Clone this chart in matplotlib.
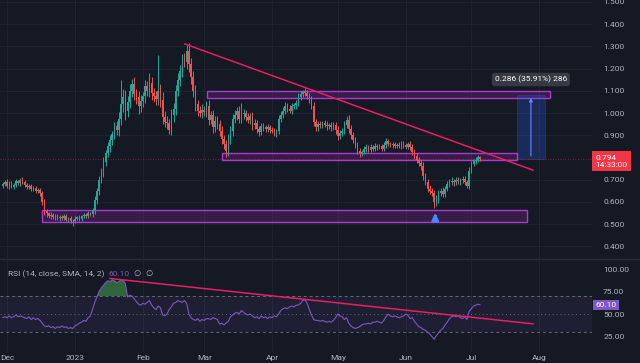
import matplotlib
matplotlib.use("Agg")
import matplotlib.pyplot as plt
from matplotlib.patches import Rectangle
import numpy as np
import pandas as pd

plt.rcParams["font.family"] = ["Roboto", "DejaVu Sans"]

START = pd.Timestamp("2022-11-29")

# daily candles, Nov 29 2022 -> Jul 5 2023 (price)
FIRST_OPEN = 0.672
CLOSES = [
    0.680, 0.690, 0.672, 0.685, 0.668, 0.675, 0.692, 0.684, 0.700, 0.688,
    0.676, 0.667, 0.672, 0.658, 0.662, 0.648, 0.655, 0.640, 0.600, 0.560,
    0.548, 0.535, 0.542, 0.530, 0.538, 0.525, 0.532, 0.528, 0.535, 0.520,
    0.527, 0.515, 0.512, 0.524, 0.530, 0.522, 0.534, 0.540, 0.536, 0.548,
    0.545, 0.562, 0.610, 0.650, 0.700, 0.735, 0.780, 0.820, 0.850, 0.880,
    0.905, 0.940, 0.925, 0.975, 1.040, 1.070, 1.010, 1.050, 1.100, 1.130,
    1.085, 1.070, 1.030, 1.055, 1.075, 1.120, 1.100, 1.135, 1.090, 1.075,
    1.065, 1.100, 1.060, 0.980, 0.960, 0.955, 0.925, 0.990, 1.020, 1.100,
    1.150, 1.190, 1.240, 1.230, 1.280, 1.220, 1.160, 1.100, 1.040, 1.010,
    1.000, 1.015, 1.005, 1.030, 0.970, 0.990, 0.935, 0.965, 0.950, 0.920,
    0.885, 0.860, 0.830, 0.880, 0.920, 0.975, 0.990, 1.010, 0.975, 0.995,
    1.000, 0.980, 0.970, 0.985, 0.945, 0.955, 0.930, 0.915, 0.940, 0.935,
    0.928, 0.935, 0.925, 0.920, 0.912, 0.918, 0.975, 0.990, 1.010, 1.030,
    1.020, 1.010, 1.030, 1.035, 1.045, 1.070, 1.085, 1.100, 1.090, 1.075,
    1.060, 1.030, 0.960, 0.935, 0.950, 0.945, 0.955, 0.948, 0.940, 0.945,
    0.935, 0.948, 0.925, 0.895, 0.910, 0.920, 0.945, 0.970, 0.930, 0.900,
    0.880, 0.855, 0.830, 0.820, 0.825, 0.838, 0.845, 0.835, 0.848, 0.840,
    0.852, 0.845, 0.850, 0.840, 0.855, 0.875, 0.862, 0.855, 0.860, 0.852,
    0.858, 0.850, 0.862, 0.855, 0.848, 0.860, 0.845, 0.825, 0.805, 0.790,
    0.775, 0.760, 0.715, 0.690, 0.660, 0.650, 0.640, 0.600, 0.610, 0.640,
    0.650, 0.635, 0.660, 0.680, 0.690, 0.695, 0.688, 0.700, 0.692, 0.698,
    0.705, 0.690, 0.672, 0.740, 0.770, 0.782, 0.790, 0.800, 0.794,
]
# wick lengths in thousandths of a dollar
UP_WICK = [
    10, 8, 12, 9, 7, 11, 10, 8, 6, 12, 9, 8, 10, 7, 9, 11, 8, 6, 10, 12,
    9, 7, 10, 8, 6, 9, 7, 10, 8, 9, 6, 8, 7, 10, 8, 9, 7, 8, 10, 9,
    8, 12, 15, 14, 18, 16, 20, 15, 18, 22, 16, 20, 25, 30, 110, 40, 35, 28, 30, 25,
    30, 22, 28, 25, 20, 30, 24, 45, 28, 22, 25, 160, 30, 35, 28, 25, 20, 30, 25, 28,
    30, 25, 28, 30, 26, 35, 28, 30, 25, 20, 22, 25, 18, 22, 30, 20, 25, 22, 20, 18,
    22, 18, 20, 25, 22, 20, 25, 18, 20, 50, 18, 15, 20, 15, 18, 20, 15, 12, 15, 14,
    12, 15, 10, 12, 14, 10, 15, 18, 15, 20, 16, 14, 15, 12, 15, 18, 15, 5, 14, 12,
    15, 18, 20, 15, 12, 14, 10, 12, 15, 12, 14, 10, 12, 15, 14, 12, 18, 15, 20, 15,
    14, 12, 15, 12, 10, 12, 14, 10, 12, 9, 11, 10, 12, 9, 14, 12, 10, 9, 11, 10,
    9, 12, 10, 11, 9, 10, 12, 14, 12, 15, 14, 12, 18, 15, 14, 16, 14, 12, 20, 15,
    14, 16, 12, 14, 12, 15, 10, 12, 14, 11, 13, 12, 10, 15, 14, 12, 10, 12, 8,
]
LOW_WICK = [
    8, 10, 9, 12, 7, 10, 8, 9, 11, 8, 10, 9, 7, 10, 8, 9, 10, 12, 15, 20,
    15, 10, 12, 9, 10, 8, 12, 9, 10, 8, 11, 10, 20, 9, 8, 10, 9, 8, 10, 9,
    10, 12, 15, 18, 20, 16, 22, 18, 20, 25, 22, 20, 25, 28, 30, 35, 40, 30, 28, 30,
    28, 30, 35, 25, 28, 30, 25, 28, 30, 25, 28, 30, 35, 30, 25, 28, 20, 25, 30, 28,
    25, 30, 28, 25, 30, 35, 30, 28, 30, 25, 20, 22, 20, 25, 22, 20, 25, 22, 20, 22,
    25, 22, 30, 25, 20, 22, 18, 20, 22, 18, 20, 18, 15, 18, 20, 15, 18, 20, 15, 18,
    15, 12, 14, 12, 15, 18, 14, 15, 12, 14, 15, 12, 14, 12, 15, 14, 12, 15, 14, 12,
    15, 14, 20, 18, 15, 12, 14, 12, 15, 12, 14, 12, 20, 15, 14, 12, 15, 14, 18, 15,
    14, 12, 15, 18, 12, 10, 12, 11, 10, 12, 10, 11, 9, 12, 10, 11, 9, 10, 12, 10,
    11, 9, 10, 12, 10, 11, 12, 14, 12, 15, 14, 16, 18, 15, 14, 16, 15, 30, 18, 15,
    14, 12, 15, 12, 14, 12, 15, 10, 12, 14, 11, 12, 10, 14, 12, 10, 12, 10, 8,
]
# RSI(14) as drawn in the lower pane, one value per candle
RSI = [
    46, 47, 46, 48, 46, 47, 49, 47, 48, 47,
    46, 45, 47, 44, 46, 44, 45, 43,
    40, 37, 36, 37,
    35, 36, 34, 36, 35, 37, 35, 36, 34, 35, 34, 37, 38, 40,
    41, 43, 42, 46, 48, 55,
    63, 69, 75, 79,
    82, 85, 87, 86, 88, 87, 85, 86, 88, 87, 84,
    69, 71, 70, 67, 64, 61,
    60, 62, 61, 63, 65,
    60, 57, 55, 59, 57,
    49, 48, 50, 55,
    58, 62, 63, 65, 64, 63, 65, 62,
    50, 46, 44, 43, 45, 42, 44, 43, 45,
    45, 44, 46, 45, 44,
    39, 40, 38, 40, 42,
    47, 49, 51, 52, 50, 54,
    52, 50, 49, 50, 48,
    46, 47, 45, 48, 46, 47, 45,
    47, 46, 48, 47, 50,
    54, 56, 57, 56, 58,
    59, 58, 60, 60, 62,
    65, 66, 62,
    55, 49, 44, 43, 43,
    42, 43, 42, 41, 42, 41, 43,
    46, 50, 48, 47, 44, 46,
    40, 37, 35, 34, 35, 36,
    38, 39, 39, 40, 39, 41,
    41, 42, 41, 40, 43, 47,
    50, 48, 47, 48, 47, 46,
    47, 48, 50, 49, 45,
    46, 42, 39, 36,
    35, 33, 32, 30, 28, 25, 22,
    26, 29, 32, 34, 38,
    41, 45, 47, 48, 47,
    48, 46, 45, 47, 44,
    53, 56, 59, 60, 61, 60.1,
]

MONTH_LABELS = ["Dec", "2023", "Feb", "Mar", "Apr", "May", "Jun", "Jul", "Aug"]
MONTH_DATES = ["2022-12-01", "2023-01-01", "2023-02-01", "2023-03-01", "2023-04-01",
               "2023-05-01", "2023-06-01", "2023-07-01", "2023-08-01"]
PRICE_TICKS = [0.4, 0.5, 0.6, 0.7, 0.9, 1.0, 1.1, 1.2, 1.3, 1.4, 1.5]
RSI_TICKS = [25, 50, 75, 100]

LAST_PRICE = 0.794
LAST_RSI = 60.10
MEASURE_LABEL = "0.286 (35.91%) 286"

# drawing tools on the chart: (day_from, day_to, price_low, price_high)
ZONES = [(18.0, 239.4, 0.509, 0.563),
         (100.1, 234.8, 0.789, 0.820),
         (93.3, 249.9, 1.068, 1.099)]
MEASURE = (234.8, 247.6, 0.794, 1.080)
PRICE_TREND = [(83.2, 1.311), (242.1, 0.743)]
RSI_TREND = [(49.0, 89.6), (242.1, 39.2)]
ARROW_DAY = 197.5

BG = "#151924"
GRID = "#1f2330"
TXT = "#b2b5be"
UP = "#26a69a"
DOWN = "#ef5350"


def day(date):
    return (pd.Timestamp(date) - START).days


closes = np.array(CLOSES)
opens = np.array([FIRST_OPEN] + CLOSES[:-1])
highs = np.maximum(opens, closes) + np.array(UP_WICK) / 1000
lows = np.minimum(opens, closes) - np.array(LOW_WICK) / 1000
x = np.arange(len(closes))
rsi_vals = np.array(RSI, dtype=float)

W, H = 640, 363
fig = plt.figure(figsize=(W / 100, H / 100), dpi=100, facecolor=BG)
ax = fig.add_axes([0, 1 - 258 / H, 592 / W, 258 / H], facecolor=BG)
ax_r = fig.add_axes([0, 1 - 351 / H, 592 / W, 91 / H], facecolor=BG)

xlim = (-1.25, 269.1)
month_x = [day(d) for d in MONTH_DATES]

for a in (ax, ax_r):
    a.set_xlim(*xlim)
    for sp in a.spines.values():
        sp.set_visible(False)
    a.set_xticks(month_x)
    a.yaxis.tick_right()
    a.tick_params(length=0, colors=TXT, labelsize=6, pad=8)
    a.grid(True, color=GRID, linewidth=0.8)
    a.set_axisbelow(True)

# ---- price pane
ax.set_ylim(0.347, 1.509)
ax.set_yticks(PRICE_TICKS)
ax.set_yticklabels([f"{t:.3f}" for t in PRICE_TICKS])
ax.set_xticklabels([])
for t in ax.get_yticklabels():
    t.set_horizontalalignment("left")

colors = np.where(closes >= opens, UP, DOWN)
ax.vlines(x, lows, highs, colors=colors, linewidth=0.7, zorder=3)
ax.bar(x, np.maximum(np.abs(closes - opens), 0.003), bottom=np.minimum(opens, closes),
       width=0.7, color=colors, linewidth=0, zorder=3)

for x0, x1, p0, p1 in ZONES:
    ax.add_patch(Rectangle((x0, p0), x1 - x0, p1 - p0, facecolor="#9c27b0", alpha=0.25,
                           edgecolor="none", zorder=2))
    ax.add_patch(Rectangle((x0, p0), x1 - x0, p1 - p0, facecolor="none",
                           edgecolor="#a93ccf", linewidth=1, zorder=2))

mx0, mx1, mp0, mp1 = MEASURE
ax.add_patch(Rectangle((mx0, mp0), mx1 - mx0, mp1 - mp0, facecolor="#2962ff", alpha=0.25,
                       edgecolor="#5b7fe8", linewidth=0.5, zorder=2))
mid = (mx0 + mx1) / 2
ax.annotate("", xy=(mid, mp1), xytext=(mid, mp0),
            arrowprops=dict(arrowstyle="-|>", color="#5b8cff", lw=0.8, mutation_scale=5),
            zorder=4)
ax.text(mid, 1.151, MEASURE_LABEL, color="white", fontsize=6, ha="center", va="center", zorder=6,
        bbox=dict(boxstyle="round,pad=0.35", facecolor="#363a45", edgecolor="none"))

(tx0, ty0), (tx1, ty1) = PRICE_TREND
ax.plot([tx0, tx1], [ty0, ty1], color="#e91e63", linewidth=1.1, zorder=4)

ax.axhline(LAST_PRICE, color="#f23645", linewidth=0.6, alpha=0.6, linestyle=(0, (1, 2)), zorder=2)
ax.text(1.006, LAST_PRICE + 0.018, f"{LAST_PRICE:.3f}\n14:33:00", transform=ax.get_yaxis_transform(),
        color="white", fontsize=6, ha="left", va="top", linespacing=1.15, clip_on=False, zorder=7,
        bbox=dict(boxstyle="square,pad=0.4", facecolor="#f23645", edgecolor="none"))

ax.annotate("", xy=(ARROW_DAY, 0.562), xytext=(ARROW_DAY, 0.512),
            arrowprops=dict(arrowstyle="-|>", color="#448aff", lw=2, mutation_scale=9), zorder=5)

# ---- RSI pane
ax_r.set_ylim(9.0, 110.1)
ax_r.set_yticks(RSI_TICKS)
ax_r.set_yticklabels([f"{t:.2f}" for t in RSI_TICKS])
ax_r.set_xticklabels(MONTH_LABELS)
ax_r.tick_params(axis="x", pad=3)
for t in ax_r.get_yticklabels():
    t.set_horizontalalignment("left")
ax_r.grid(False, axis="y")

ax_r.axhspan(30, 70, color="#7e57c2", alpha=0.1, linewidth=0)
for lvl, ls in ((70, (0, (3, 3))), (30, (0, (3, 3))), (50, (0, (1, 3)))):
    ax_r.axhline(lvl, color="#787b86", linewidth=0.7, linestyle=ls, alpha=0.8)
ax_r.fill_between(x, 70, rsi_vals, where=rsi_vals > 70, interpolate=True,
                  color="#4caf50", alpha=0.5, linewidth=0)
ax_r.plot(x, rsi_vals, color="#7e57c2", linewidth=0.8, zorder=3)

(rx0, ry0), (rx1, ry1) = RSI_TREND
ax_r.plot([rx0, rx1], [ry0, ry1], color="#e91e63", linewidth=1.1, zorder=4)

ax_r.text(1.006, LAST_RSI, f"{LAST_RSI:.2f}", transform=ax_r.get_yaxis_transform(),
          color="white", fontsize=6, ha="left", va="center", clip_on=False, zorder=7,
          bbox=dict(boxstyle="square,pad=0.25", facecolor="#7e57c2", edgecolor="none"))

# indicator legend, each piece placed after the previous one
fig.canvas.draw()
renderer = fig.canvas.get_renderer()
lx = 8
for txt, col in (("RSI (14, close, SMA, 14, 2)", TXT), (f"{LAST_RSI:.2f}", "#7e57c2"),
                 ("∅", TXT), ("∅", TXT)):
    t = fig.text(lx / W, 1 - 274 / H, txt, color=col, fontsize=6, va="center")
    lx = t.get_window_extent(renderer).x1 + 4

fig.add_artist(plt.Line2D([0, 1], [1 - 259 / H] * 2, color="#2a2e39", linewidth=1))

fig.savefig("out.png", dpi=100, facecolor=BG)
